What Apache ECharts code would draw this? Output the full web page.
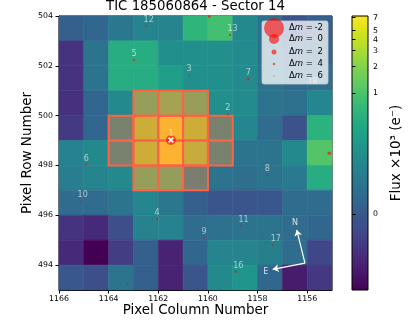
<!DOCTYPE html>
<html>
<head>
<meta charset="utf-8">
<script src="https://cdn.jsdelivr.net/npm/echarts@6/dist/echarts.min.js"></script>
<style>
  html, body { margin: 0; padding: 0; background: #fff; }
  #chart { width: 415px; height: 330px; }
</style>
</head>
<body>
<div id="chart"></div>
<script>
// 像素格子下沿坐标（列从左到右，行从上到下）
var pixelCols = [1165, 1164, 1163, 1162, 1161, 1160, 1159, 1158, 1157, 1156, 1155];
var pixelRows = [503, 502, 501, 500, 499, 498, 497, 496, 495, 494, 493];

// Flux x10^3 (e-)，按行排列
var flux = [
  [0.009, 0.022, 0.067, 0.115, 0.115, 0.603, 0.871, 0.139, 0.045, -0.008, 0.009],
  [-0.029, 0.052, 0.481, 0.481, 0.182, 0.182, 0.182, 0.152, 0.045, 0.009, 0.017],
  [-0.029, 0.052, 0.481, 0.481, 0.301, 0.182, 0.182, 0.152, 0.052, 0.033, 0.039],
  [-0.030, 0.022, 0.139, 1.084, 1.443, 1.084, 0.182, 0.152, 0.052, 0.045, 0.126],
  [-0.026, 0.022, 0.216, 3.150, 6.780, 3.150, 0.216, 0.126, 0.033, -0.008, 0.560],
  [0.104, 0.139, 0.216, 3.150, 7.200, 2.730, 0.216, 0.052, 0.052, 0.139, 1.084],
  [0.084, 0.115, 0.139, 1.084, 1.008, 0.166, 0.052, 0.039, 0.052, 0.075, 0.481],
  [0.033, 0.033, 0.052, 0.126, 0.067, 0.009, -0.005, -0.005, -0.002, 0.033, 0.033],
  [-0.029, -0.033, -0.011, 0.104, 0.104, 0.033, 0.045, 0.052, 0.052, 0.033, 0.022],
  [-0.033, -0.042, -0.024, 0.009, -0.035, 0.022, 0.115, 0.115, 0.093, 0.033, -0.018],
  [-0.002, -0.011, 0.052, 0.009, -0.035, -0.005, 0.139, 0.216, 0.022, -0.037, -0.027]
];
var fluxMin = -0.042, fluxMax = 7.27;

// 孔径 (aperture) 像素
var aperture = [
  [1162, 500], [1161, 500], [1160, 500],
  [1163, 499], [1162, 499], [1161, 499], [1160, 499], [1159, 499],
  [1163, 498], [1162, 498], [1161, 498], [1160, 498], [1159, 498],
  [1162, 497], [1161, 497], [1160, 497]
];

// Gaia 星
var starIds = ['1', '2', '3', '4', '5', '6', '7', '8', '9', '10', '11', '12', '13', '', '', '16', '17', '18', ''];
var starX = [1161.49, 1159.20, 1160.76, 1162.05, 1162.98, 1164.90, 1158.37, 1157.61, 1160.16, 1165.15, 1158.67, 1162.49, 1159.11, 1159.94, 1155.11, 1158.88, 1157.37, 1155.89, 1163.23];
var starY = [499.02, 500.05, 501.62, 495.85, 502.23, 498.04, 501.46, 497.61, 495.08, 496.56, 495.57, 503.60, 503.24, 503.98, 498.49, 493.73, 494.80, 501.11, 493.25];
var starDm = [0, 4.5, 5, 4.5, 4, 4.5, 4, 5, 5, 5, 5, 5, 4, 3.5, 3, 4, 4.5, 5, 5];

var legendDm = [-2, 0, 2, 4, 6];
var xTicks = [1166, 1164, 1162, 1160, 1158, 1156];
var yTicks = [494, 496, 498, 500, 502, 504];
var cbarTicks = [0, 1, 2, 3, 4, 5, 6, 7];

// 指北针
var compassBase = [1156.09, 494.08];
var compassN = [1156.42, 495.41];
var compassE = [1157.39, 493.83];

var FONT = 'DejaVu Sans';
var viridis = ['#440154', '#471365', '#482475', '#463480', '#414487', '#3b528b', '#355f8d', '#2f6c8e', '#2a788e', '#25848e',
  '#21908c', '#1e9c89', '#22a884', '#2fb47c', '#43bf71', '#5ec962', '#7ad151', '#9ad93c', '#bbdf27', '#dce319', '#fde725'];

// log stretch (a = 1000)
function stretch(v) {
  return Math.log(1000 * (v - fluxMin) / (fluxMax - fluxMin) + 1) / Math.log(1001);
}
function unstretch(t) {
  return fluxMin + (fluxMax - fluxMin) * (Math.pow(1001, t) - 1) / 1000;
}
function markerSize(dm) {
  return 10 * Math.pow(2, -dm / 2);
}

var cells = [];
pixelRows.forEach(function (y, r) {
  pixelCols.forEach(function (x, c) {
    cells.push([x, y, stretch(flux[r][c]), flux[r][c]]);
  });
});

var stars = starIds.map(function (id, i) {
  return { name: id, value: [starX[i], starY[i], starDm[i]] };
});

function cellRect(api, x, y) {
  var a = api.coord([x, y]);
  var b = api.coord([x + 1, y + 1]);
  return {
    x: Math.min(a[0], b[0]),
    y: Math.min(a[1], b[1]),
    width: Math.abs(a[0] - b[0]),
    height: Math.abs(a[1] - b[1])
  };
}

var cbarStops = viridis.map(function (c, i) {
  return { offset: i / (viridis.length - 1), color: c };
});

// 图例（Δm 大小），放在最上层
var LX = 262, LY = 21;
var legendEls = [{
  type: 'rect', z: 100,
  shape: { x: LX, y: LY, width: 66, height: 63, r: 2 },
  style: { fill: 'rgba(255,255,255,0.75)', stroke: '#cccccc', lineWidth: 0.8 }
}];
var legendY = [7, 18, 31, 43, 55];
legendDm.forEach(function (dm, i) {
  legendEls.push({
    type: 'circle', z: 101,
    shape: { cx: LX + 12, cy: LY + legendY[i], r: markerSize(dm) / 2 },
    style: { fill: 'rgba(255,0,0,0.6)' }
  });
  legendEls.push({
    type: 'text', z: 101,
    x: LX + 27, y: LY + legendY[i],
    style: {
      text: 'Δ{m|m} =',
      rich: { m: { fontStyle: 'italic', fontFamily: FONT, fontSize: 8.5, fill: '#000' } },
      font: '8.5px "DejaVu Sans"', fill: '#000', verticalAlign: 'middle'
    }
  });
  legendEls.push({
    type: 'text', z: 101,
    x: LX + 61, y: LY + legendY[i],
    style: {
      text: String(dm),
      font: '8.5px "DejaVu Sans"', fill: '#000', align: 'right', verticalAlign: 'middle'
    }
  });
});

var option = {
  animation: false,
  title: {
    text: 'TIC 185060864 - Sector 14',
    left: 195.5, top: 0, textAlign: 'center', padding: 0,
    textStyle: { fontFamily: FONT, fontSize: 13.3, fontWeight: 'normal', color: '#000' }
  },
  grid: [
    { left: 59, top: 16, width: 273, height: 274, show: true, borderColor: '#000', borderWidth: 1, backgroundColor: 'transparent' },
    { left: 352, top: 16, width: 16, height: 274, show: true, borderColor: '#000', borderWidth: 1,
      backgroundColor: new echarts.graphic.LinearGradient(0, 1, 0, 0, cbarStops) }
  ],
  xAxis: [
    {
      type: 'value', gridIndex: 0, min: 1155, max: 1166, inverse: true,
      name: 'Pixel Column Number', nameLocation: 'middle', nameGap: 13, nameMoveOverlap: false,
      nameTextStyle: { fontFamily: FONT, fontSize: 13.5, color: '#000' },
      axisLine: { show: true, onZero: false, lineStyle: { color: '#000', width: 1 } },
      axisTick: { show: true, length: 3.5, customValues: xTicks, lineStyle: { color: '#000' } },
      axisLabel: { customValues: xTicks, margin: 5, fontFamily: FONT, fontSize: 7.8, color: '#000',
        formatter: function (v) { return String(v); } },
      splitLine: { show: false }
    },
    { type: 'value', gridIndex: 1, min: 0, max: 1, show: false }
  ],
  yAxis: [
    {
      type: 'value', gridIndex: 0, min: 493, max: 504,
      name: 'Pixel Row Number', nameLocation: 'middle', nameGap: 25, nameMoveOverlap: false,
      nameTextStyle: { fontFamily: FONT, fontSize: 13.5, color: '#000' },
      axisLine: { show: true, onZero: false, lineStyle: { color: '#000', width: 1 } },
      axisTick: { show: true, length: 3.5, customValues: yTicks, lineStyle: { color: '#000' } },
      axisLabel: { customValues: yTicks, margin: 6, fontFamily: FONT, fontSize: 7.8, color: '#000',
        formatter: function (v) { return String(v); } },
      splitLine: { show: false }
    },
    {
      type: 'value', gridIndex: 1, min: 0, max: 1, position: 'right',
      name: 'Flux ×10³ (e⁻)', nameLocation: 'middle', nameGap: 21, nameMoveOverlap: false,
      nameTextStyle: { fontFamily: FONT, fontSize: 13.5, color: '#000' },
      axisLine: { show: false },
      axisTick: { show: true, length: 3.5, customValues: cbarTicks.map(stretch), lineStyle: { color: '#000' } },
      axisLabel: {
        customValues: cbarTicks.map(stretch), margin: 5, fontFamily: FONT, fontSize: 7.8, color: '#000',
        showMinLabel: true, showMaxLabel: true, hideOverlap: false,
        formatter: function (t) { return String(Math.round(unstretch(t))); }
      },
      splitLine: { show: false }
    }
  ],
  visualMap: {
    type: 'continuous', show: false, min: 0, max: 1, dimension: 2, seriesIndex: 0,
    inRange: { color: viridis }
  },
  graphic: legendEls,
  series: [
    {
      type: 'custom', xAxisIndex: 0, yAxisIndex: 0, data: cells,
      encode: { x: 0, y: 1 },
      renderItem: function (params, api) {
        var color = api.visual('color');
        return {
          type: 'rect',
          shape: cellRect(api, api.value(0), api.value(1)),
          style: { fill: color, stroke: color, lineWidth: 0.6 }
        };
      }
    },
    {
      type: 'custom', xAxisIndex: 0, yAxisIndex: 0, data: aperture, z: 3,
      encode: { x: 0, y: 1 },
      renderItem: function (params, api) {
        return {
          type: 'rect',
          shape: cellRect(api, api.value(0), api.value(1)),
          style: { fill: 'rgba(255,99,71,0.4)', stroke: '#ff6347', lineWidth: 2 }
        };
      }
    },
    {
      type: 'scatter', xAxisIndex: 0, yAxisIndex: 0, data: stars, z: 4,
      symbol: 'circle',
      symbolSize: function (val) { return markerSize(val[2]); },
      itemStyle: { color: '#ff0000', opacity: 0.6 },
      label: {
        show: true, position: 'inside', offset: [-2.5, -6], align: 'left', verticalAlign: 'middle',
        formatter: '{b}', color: '#ffffff', fontFamily: FONT, fontSize: 8
      },
      emphasis: { disabled: true }
    },
    {
      type: 'scatter', xAxisIndex: 0, yAxisIndex: 0, z: 5,
      data: [[starX[0], starY[0]]],
      symbol: 'path://M2,0L5,3L8,0L10,2L7,5L10,8L8,10L5,7L2,10L0,8L3,5L0,2Z',
      symbolSize: 6,
      itemStyle: { color: '#ffffff', opacity: 1 },
      emphasis: { disabled: true }
    },
    {
      type: 'lines', coordinateSystem: 'cartesian2d', xAxisIndex: 0, yAxisIndex: 0, z: 5,
      data: [{ coords: [compassBase, compassN] }, { coords: [compassBase, compassE] }],
      symbol: ['none', 'arrow'], symbolSize: 6,
      lineStyle: { color: '#ffffff', width: 1.2, opacity: 1 },
      silent: true
    },
    {
      type: 'scatter', xAxisIndex: 0, yAxisIndex: 0, z: 5, symbolSize: 0,
      data: [{ name: 'N', value: [1156.49, 495.70] }, { name: 'E', value: [1157.67, 493.73] }],
      label: { show: true, position: 'inside', formatter: '{b}', color: '#ffffff', fontFamily: FONT, fontSize: 8 },
      silent: true
    }
  ]
};

var myChart = echarts.init(document.getElementById('chart'));
myChart.setOption(option);
</script>
</body>
</html>
